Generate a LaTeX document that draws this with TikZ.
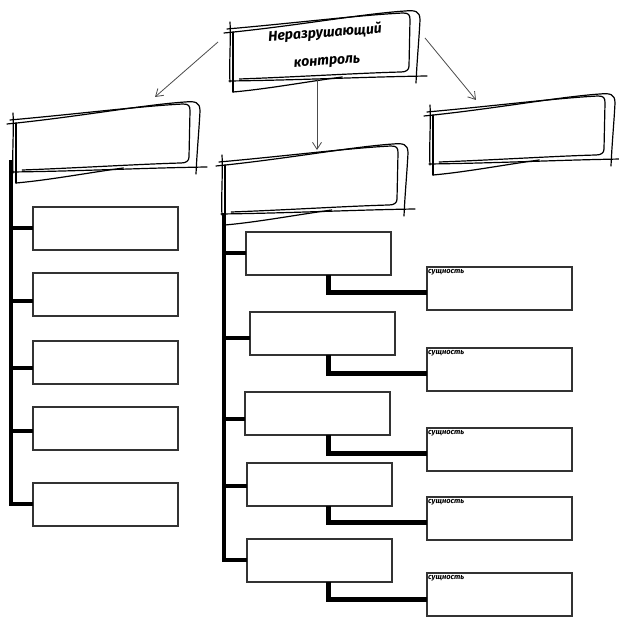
\documentclass[tikz,border=0pt]{standalone}
\usepackage{fontspec}
\setmainfont{Fira Sans}
\usetikzlibrary{arrows.meta,fit}
\tikzset{
 sk/.style={draw=black,line width=1.2pt,line cap=round,line join=round},
 rbox/.style={draw=black!80,line width=1.3pt,minimum width=145pt,minimum height=43pt,anchor=north west,inner sep=0pt,outer sep=0pt},
 spine/.style={draw=black,line width=3.2pt},
 branch/.style={draw=black,line width=4pt},
 elbow/.style={draw=black,line width=5pt},
 arr/.style={draw=black!70,line width=0.8pt,-{Straight Barb[length=7pt,width=9pt]}},
 lbl/.style={font=\fontsize{7.5}{8}\selectfont\bfseries\itshape,inner sep=1pt,anchor=north west},
 titlef/.style={font=\fontsize{14}{16}\selectfont\bfseries\itshape,align=center},
}
\newcommand\skbox[4]{%
  \pgfmathsetmacro\skw{#3-#2}%
  \coordinate (#1a) at (#2-7,#4-20);
  \coordinate (#1b) at (#3+4,#4+62);
  \node[fit=(#1a)(#1b),inner sep=0pt] (#1) {};
  \begin{scope}[shift={(#2,#4)}]
   \draw[sk] (-6,3) .. controls (0.35*\skw,-4) and (0.7*\skw,-16) .. (\skw-12,-19) .. controls (\skw-2,-20) and (\skw+3,-19) .. (\skw+3,-10) .. controls (\skw+2,10) and (\skw,30) .. (\skw-1,53);
   \draw[sk] (-3,-1) .. controls (0.35*\skw,-7) and (0.7*\skw,-15) .. (\skw-14,-17) .. controls (\skw-8,-17) and (\skw-7,-15) .. (\skw-7,-10) -- (\skw-8,36) .. controls (\skw-8,40) and (\skw-11,42) .. (\skw-16,42) .. controls (0.7*\skw,43) and (0.35*\skw,47) .. (0.05*\skw,49);
   \draw[sk] (-1,51) .. controls (0.4*\skw,50) and (0.7*\skw,47) .. (\skw+10,46);
   \draw[sk] (3,62) .. controls (0.2*\skw,59) and (0.4*\skw,52) .. (0.6*\skw,47);
   \draw[sk] (0,-8) .. controls (1,10) and (-1,35) .. (0,52);
   \draw[sk] (3,2) -- (3,62);
  \end{scope}}
\begin{document}
\begin{tikzpicture}[x=1pt,y=-1pt]
\useasboundingbox[fill=white] (0,0) rectangle (619,617);
% sketched header boxes
\skbox{top}{230}{417}{30}
\skbox{lh}{13}{197}{121}
\skbox{mh}{222}{405}{163}
\skbox{rh}{430}{612}{113}
\node[titlef,rotate=4] (title) at (326,47) {Неразрушающий\\[12pt]контроль};
% arrows
\coordinate (a1s) at (218,42); \coordinate (a1e) at (155,97);
\coordinate (a2s) at (317,80); \coordinate (a2e) at (317,150);
\coordinate (a3s) at (425,38); \coordinate (a3e) at (476,100);
\draw[arr] (a1s) -- (a1e);
\draw[arr] (a2s) -- (a2e);
\draw[arr] (a3s) -- (a3e);
% left column
\node[rbox] (l1) at (33,207) {};
\node[rbox] (l2) at (33,273) {};
\node[rbox] (l3) at (33,341) {};
\node[rbox] (l4) at (33,407) {};
\node[rbox] (l5) at (33,483) {};
\coordinate (lsp) at (11,160);
\draw[spine] (lsp) -- ([yshift=-1.5pt]lsp |- l5.west);
\draw[branch] (l1.west) -- (l1.west -| lsp);
\draw[branch] ([yshift=-7pt]l2.west) -- ([yshift=-7pt]l2.west -| lsp);
\draw[branch] ([yshift=-6pt]l3.west) -- ([yshift=-6pt]l3.west -| lsp);
\draw[branch] ([yshift=-3pt]l4.west) -- ([yshift=-3pt]l4.west -| lsp);
\draw[branch] (l5.west) -- (l5.west -| lsp);
% middle column
\node[rbox] (m1) at (246,232) {};
\node[rbox] (m2) at (250,312) {};
\node[rbox] (m3) at (245,392) {};
\node[rbox] (m4) at (247,463) {};
\node[rbox] (m5) at (247,539) {};
\coordinate (msp) at (224,213);
\draw[spine] (msp) -- ([yshift=-1.5pt]msp |- m5.west);
\draw[branch] (m1.west) -- (m1.west -| msp);
\draw[branch] ([yshift=-5pt]m2.west) -- ([yshift=-5pt]m2.west -| msp);
\draw[branch] ([yshift=-6pt]m3.west) -- ([yshift=-6pt]m3.west -| msp);
\draw[branch] ([yshift=-2pt]m4.west) -- ([yshift=-2pt]m4.west -| msp);
\draw[branch] (m5.west) -- (m5.west -| msp);
% right column
\node[rbox] (s1) at (427,267) {};
\node[rbox] (s2) at (427,348) {};
\node[rbox] (s3) at (427,428) {};
\node[rbox] (s4) at (427,497) {};
\node[rbox] (s5) at (427,573) {};
\foreach \i in {1,...,5}{\node[lbl] (s\i t) at ([yshift=-1.5pt]s\i.north west) {сущность};}
\coordinate (cx) at (328,0);
\foreach \i in {1,...,5}{\draw[elbow] (m\i.south -| cx) |- ([yshift=-4.5pt]s\i.west);}
\end{tikzpicture}
\end{document}
